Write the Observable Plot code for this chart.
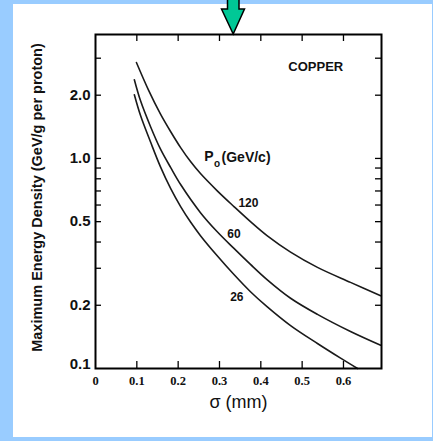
<!DOCTYPE html>
<html><head><meta charset="utf-8">
<script src="https://cdn.jsdelivr.net/npm/d3@7"></script>
<script src="https://cdn.jsdelivr.net/npm/@observablehq/plot@0.6"></script>
<style>
html,body{margin:0;padding:0;background:#99ccff;width:433px;height:441px;overflow:hidden;}
#panel{position:absolute;left:13px;top:4px;width:419px;height:433px;background:#fff;}
#chart{position:absolute;left:0;top:0;}
#deco{position:absolute;left:0;top:0;}
</style></head><body>
<div id="panel"></div>
<div id="chart"></div>
<svg id="deco" width="433" height="441">
  <polygon points="227.5,-2 239,-2 239,9 244.5,9 233.2,34 221.5,9 227.5,9" fill="#00c896" stroke="#000" stroke-width="1.5" stroke-linejoin="miter"/>
</svg>
<script>
// Curve data (sigma in mm, max energy density in GeV/g per proton)
const sigma120 = [0.099,0.128,0.157,0.182,0.206,0.230,0.254,0.294,0.335,0.375,0.415,0.472,0.537,0.617,0.690];
const dens120  = [2.86,2.12,1.63,1.34,1.126,0.966,0.847,0.703,0.590,0.500,0.429,0.358,0.303,0.257,0.222];
const sigma60  = [0.094,0.109,0.133,0.157,0.182,0.206,0.254,0.294,0.335,0.375,0.415,0.472,0.537,0.617,0.690];
const dens60   = [2.37,1.88,1.42,1.11,0.904,0.751,0.552,0.449,0.373,0.313,0.265,0.216,0.181,0.150,0.129];
const sigma26  = [0.094,0.109,0.133,0.157,0.182,0.206,0.230,0.254,0.294,0.335,0.375,0.415,0.472,0.537,0.593,0.634];
const dens26   = [2.01,1.60,1.20,0.914,0.718,0.590,0.498,0.429,0.345,0.280,0.232,0.197,0.160,0.1315,0.112,0.100];

// Ticks
const xTickValues = [0,0.1,0.2,0.3,0.4,0.5,0.6];
const xMinorTicks = [0.1,0.2,0.3,0.4,0.5,0.6];
const yTickLabels = [0.2,0.5,1,2];
const yBottomLabel = [0.1];
const yMinorTicks = [0.2,0.3,0.4,0.5,0.6,0.7,0.8,0.9,1,2,3];

// Curve labels
const curveLabels = ["120","60","26"];
const curveLabelSigma = [0.370,0.335,0.342];
const curveLabelDens  = [0.613,0.437,0.218];

const rows = [];
sigma120.forEach((s,i)=>rows.push({p:"120", s, e:dens120[i]}));
sigma60.forEach((s,i)=>rows.push({p:"60", s, e:dens60[i]}));
sigma26.forEach((s,i)=>rows.push({p:"26", s, e:dens26[i]}));
const labels = curveLabels.map((t,i)=>({t, s:curveLabelSigma[i], e:curveLabelDens[i]}));

const W = 433, H = 441, mL = 95, mR = 52, mT = 34, mB = 73;
const fw = W - mL - mR, fh = H - mT - mB;
const fmt = d3.format(".1f");

const chart = Plot.plot({
  width: W, height: H,
  marginLeft: mL, marginRight: mR, marginTop: mT, marginBottom: mB,
  style: {background: "none", color: "#111", fontFamily: "Liberation Sans, Arial, sans-serif"},
  x: {domain: [0, 0.692]},
  y: {type: "log", domain: [0.1, 3.89]},
  marks: [
    Plot.line(rows, {x: "s", y: "e", z: "p", stroke: "#1a1a1a", strokeWidth: 1.6, curve: "catmull-rom"}),
    Plot.tickY(yMinorTicks, {y: d => d, insetRight: fw - 6, stroke: "#000", strokeWidth: 1.3}),
    Plot.tickY(yMinorTicks, {y: d => d, insetLeft: fw - 6, stroke: "#000", strokeWidth: 1.3}),
    Plot.tickX(xMinorTicks, {x: d => d, insetTop: fh - 7, stroke: "#000", strokeWidth: 1.3}),
    Plot.tickX(xMinorTicks, {x: d => d, insetBottom: fh - 7, stroke: "#000", strokeWidth: 1.3}),
    Plot.frame({stroke: "#000", strokeWidth: 2}),
    Plot.axisY({ticks: yTickLabels, tickSize: 0, tickPadding: 5, tickFormat: fmt,
      fontSize: 15, fontWeight: "bold", fontFamily: "Liberation Sans", label: null}),
    Plot.axisY({ticks: yBottomLabel, tickSize: 0, tickPadding: 5, tickFormat: fmt, dy: -4,
      fontSize: 15, fontWeight: "bold", fontFamily: "Liberation Sans", label: null}),
    Plot.axisX({ticks: xTickValues, tickSize: 0, tickPadding: 8, tickFormat: d => d === 0 ? "0" : d.toFixed(1),
      fontSize: 12.5, fontWeight: "bold", fontFamily: "Liberation Serif", label: null}),
    Plot.text(labels, {x: "s", y: "e", text: "t", fontSize: 12, fontWeight: "bold", fill: "#111"}),
    Plot.text(["COPPER"], {x: 0.533, y: 2.73, text: d => d, fontSize: 13, fontWeight: "bold", fill: "#111"}),
    Plot.text(["P"], {x: 0.263, y: 1.02, text: d => d, fontSize: 14, fontWeight: "bold", textAnchor: "start", fill: "#111"}),
    Plot.text(["o"], {x: 0.2865, y: 0.94, text: d => d, fontSize: 10, fontWeight: "bold", textAnchor: "start", fill: "#111"}),
    Plot.text(["(GeV/c)"], {x: 0.305, y: 1.005, text: d => d, fontSize: 14, fontWeight: "bold", textAnchor: "start", fill: "#111"}),
    Plot.text(["σ (mm)"], {frameAnchor: "bottom", dy: 39, text: d => d, fontSize: 18, fill: "#111"}),
    Plot.text(["Maximum Energy Density (GeV/g per proton)"], {frameAnchor: "left", textAnchor: "middle", dx: -58, dy: -4, rotate: -90,
      text: d => d, fontSize: 14.5, fontWeight: "bold", fill: "#111"})
  ]
});
document.getElementById("chart").appendChild(chart);
</script>
</body></html>
